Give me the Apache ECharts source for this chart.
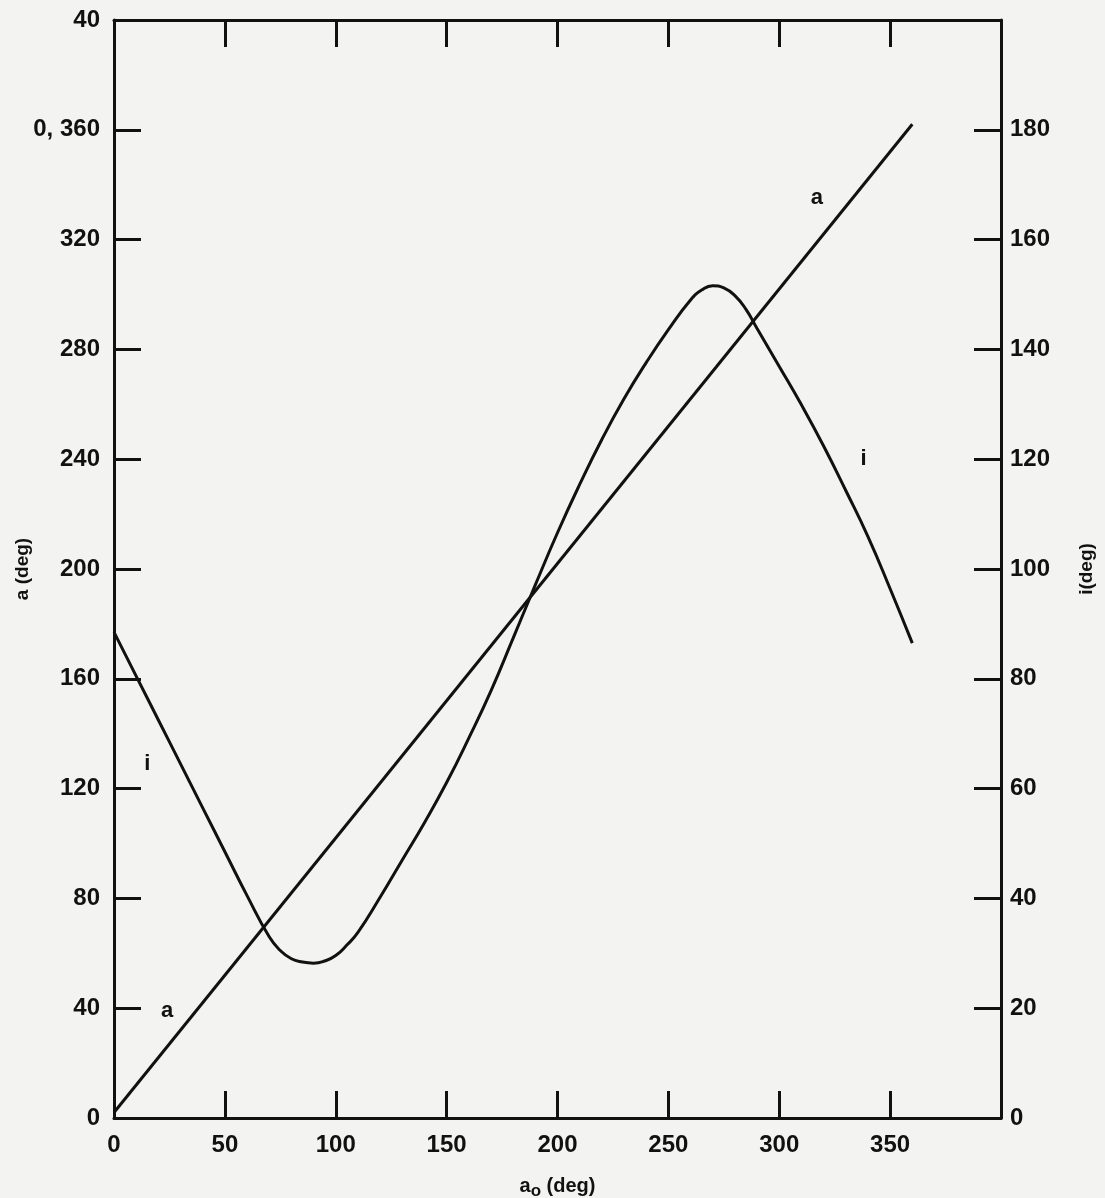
<!DOCTYPE html>
<html>
<head>
<meta charset="utf-8">
<script src="https://cdn.jsdelivr.net/npm/echarts@6/dist/echarts.min.js"></script>
<style>
  html, body { margin: 0; padding: 0; background: #f3f3f1; }
  #main { width: 1105px; height: 1198px; }
</style>
</head>
<body>
<div id="main"></div>
<script>
// a0 (deg) along the x axis
const a0Line = [0, 360];
const aLine = [2, 362];

// i curve (right axis, deg)
const a0I = [0, 10, 20, 30, 40, 50, 60, 70, 75, 80, 85, 90, 95, 100, 105, 110, 120, 130, 140, 150,
    160, 170, 180, 190, 200, 210, 220, 230, 240, 250, 260, 265, 270, 275, 280, 285, 290, 300, 310,
    320, 330, 340, 350, 360];
const iVals = [88.5, 80.5, 72.5, 64.5, 56.5, 48.5, 40.5, 33, 30.5, 29, 28.4, 28.2, 28.6, 29.6, 31.5,
    33.8, 40.2, 47, 53.8, 61.1, 69.2, 77.8, 87.4, 97.1, 106.6, 115.4, 123.6, 131, 137.6, 143.6,
    149, 150.8, 151.6, 151.2, 149.8, 147.3, 143.8, 136.9, 129.9, 122.4, 114.3, 105.9, 96.4, 86.5];

// curve names written on the plot (left-axis coordinates)
const noteText = ['a', 'a', 'i', 'i'];
const noteX = [24, 317, 15, 338];
const noteY = [39, 335, 129, 240];

const ink = '#111';
const font = 'Liberation Sans, Arial, sans-serif';

const chart = echarts.init(document.getElementById('main'));

const tickStyle = { show: true, inside: true, length: 27, lineStyle: { color: ink, width: 3 } };
const lineStyle = { show: true, onZero: false, lineStyle: { color: ink, width: 3 } };
const labelStyle = { color: ink, fontFamily: font, fontWeight: 'bold', fontSize: 24 };

const option = {
    backgroundColor: '#f3f3f1',
    animation: false,
    grid: { left: 114, right: 104, top: 20, bottom: 80, containLabel: false, outerBoundsMode: 'none' },
    xAxis: [
        {
            type: 'value', min: 0, max: 400, interval: 50,
            axisLine: lineStyle, axisTick: tickStyle, splitLine: { show: false },
            axisLabel: Object.assign({}, labelStyle, {
                margin: 15,
                formatter: v => (v === 400 ? '' : String(v))
            }),
            name: 'a{sub|o} (deg)', nameLocation: 'middle', nameGap: 55,
            nameTextStyle: {
                color: ink, fontFamily: font, fontWeight: 'bold', fontSize: 20,
                rich: { sub: { fontFamily: font, fontWeight: 'bold', fontSize: 17, verticalAlign: 'bottom', padding: [10, 0, 0, 0] } }
            }
        },
        {
            type: 'value', position: 'top', min: 0, max: 400, interval: 50,
            axisLine: lineStyle, axisTick: tickStyle, axisLabel: { show: false }, splitLine: { show: false }
        }
    ],
    yAxis: [
        {
            type: 'value', position: 'left', min: 0, max: 400, interval: 40,
            axisLine: lineStyle, axisTick: tickStyle, splitLine: { show: false },
            axisLabel: Object.assign({}, labelStyle, {
                margin: 14,
                formatter: v => (v === 360 ? '0, 360' : v === 400 ? '40' : String(v))
            }),
            name: 'a (deg)', nameLocation: 'middle', nameGap: 82, nameRotate: 90, nameMoveOverlap: false,
            nameTextStyle: { color: ink, fontFamily: font, fontWeight: 'bold', fontSize: 19 }
        },
        {
            type: 'value', position: 'right', min: 0, max: 200, interval: 20,
            axisLine: lineStyle, axisTick: tickStyle, splitLine: { show: false },
            axisLabel: Object.assign({}, labelStyle, {
                margin: 9,
                formatter: v => (v === 200 ? '' : String(v))
            }),
            name: 'i(deg)', nameLocation: 'middle', nameGap: 76, nameRotate: 90, nameMoveOverlap: false,
            nameTextStyle: { color: ink, fontFamily: font, fontWeight: 'bold', fontSize: 19 }
        }
    ],
    series: [
        {
            name: 'a', type: 'line', xAxisIndex: 0, yAxisIndex: 0,
            showSymbol: false, lineStyle: { color: ink, width: 3 },
            data: a0Line.map((x, k) => [x, aLine[k]])
        },
        {
            name: 'i', type: 'line', xAxisIndex: 0, yAxisIndex: 1,
            showSymbol: false, smooth: 0.5, lineStyle: { color: ink, width: 3 },
            data: a0I.map((x, k) => [x, iVals[k]])
        },
        {
            name: 'notes', type: 'scatter', xAxisIndex: 0, yAxisIndex: 0,
            symbolSize: 1, silent: true,
            itemStyle: { opacity: 0 },
            label: {
                show: true, position: 'inside', formatter: p => p.data.name,
                color: ink, opacity: 1, fontFamily: font, fontWeight: 'bold', fontSize: 22
            },
            data: noteText.map((t, k) => ({ name: t, value: [noteX[k], noteY[k]] }))
        }
    ]
};

chart.setOption(option);
</script>
</body>
</html>
